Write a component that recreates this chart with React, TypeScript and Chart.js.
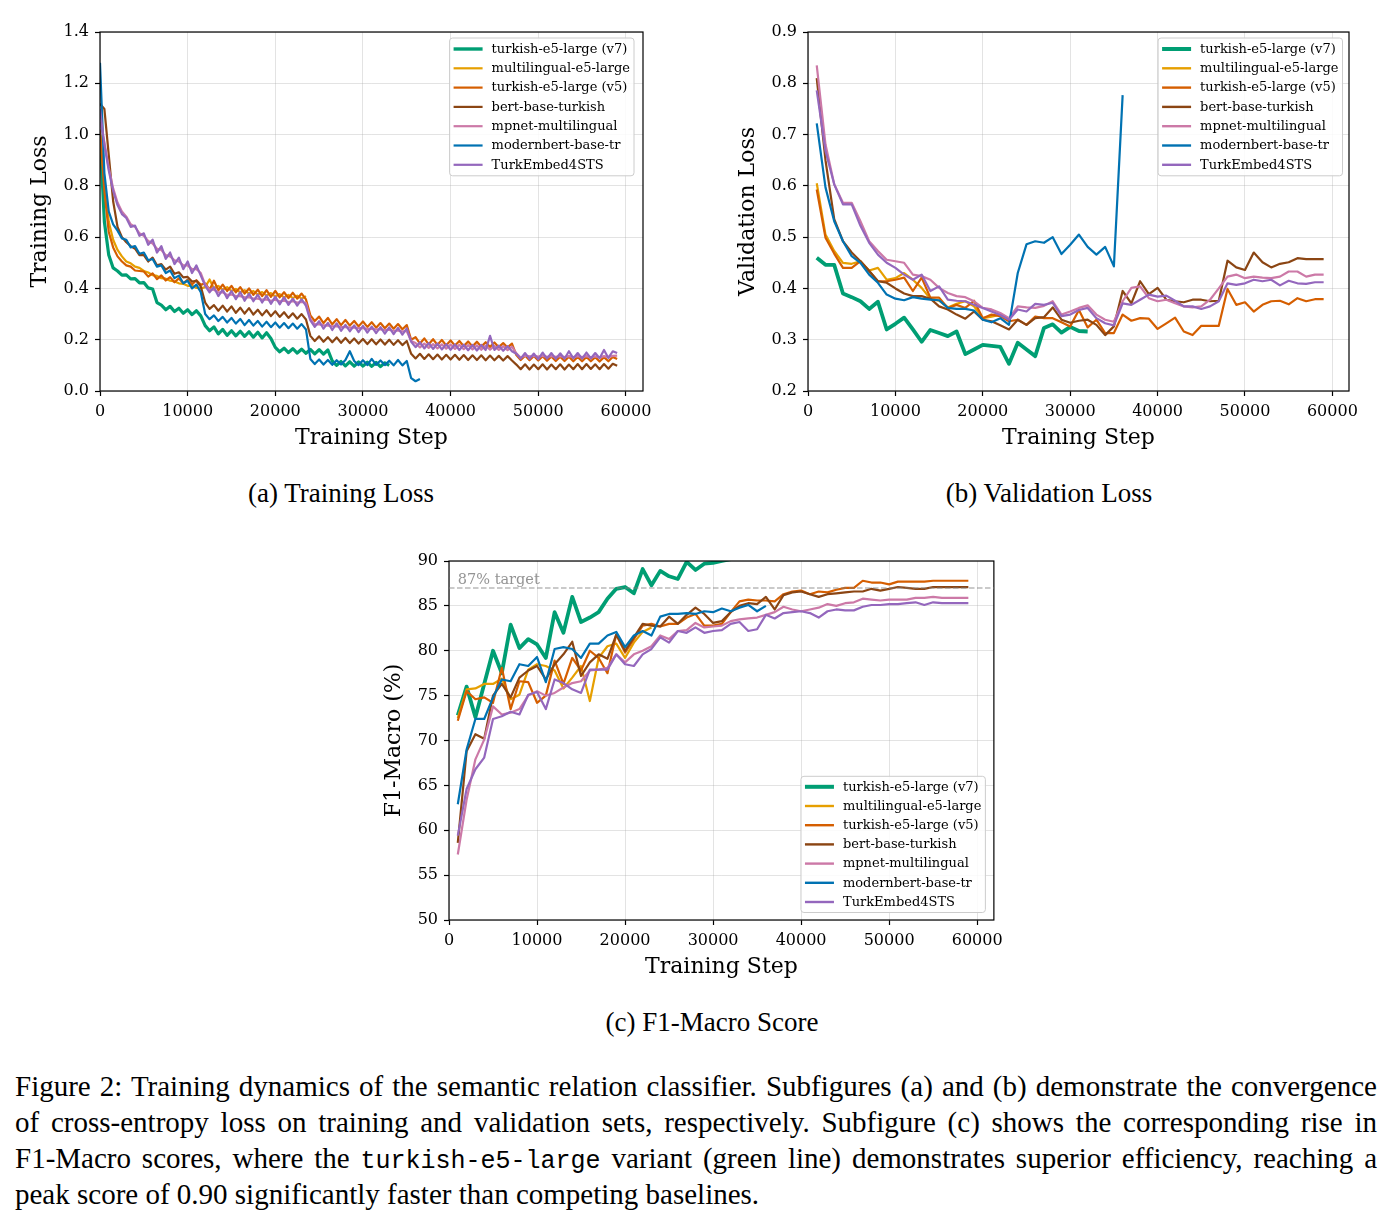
import React, { useEffect, useRef } from 'react';
import { Chart, registerables } from 'chart.js';

Chart.register(...registerables);

const SERIF = '"DejaVu Serif", serif';
const TIMES = '"Liberation Serif", "Times New Roman", serif';
const MONO = '"Liberation Mono", "DejaVu Sans Mono", monospace';

const MODELS = [
  'turkish-e5-large (v7)',
  'multilingual-e5-large',
  'turkish-e5-large (v5)',
  'bert-base-turkish',
  'mpnet-multilingual',
  'modernbert-base-tr',
  'TurkEmbed4STS',
];
const COLORS = ['#009E73', '#E69F00', '#D55E00', '#8B4513', '#CC79A7', '#0072B2', '#9467BD'];

// training steps are logged every 500 steps, evaluation every 1000 steps
const TRAIN_STEPS = Array.from({ length: 119 }, (_, i) => i * 500);
const EVAL_STEPS = Array.from({ length: 59 }, (_, i) => (i + 1) * 1000);

const X_TICKS = [0, 10000, 20000, 30000, 40000, 50000, 60000];

// ---------------- (a) Training loss ----------------
const TRAIN_V7 = [
  1.0, 0.66, 0.53, 0.48, 0.468, 0.452, 0.453, 0.437, 0.438, 0.422,
  0.423, 0.402, 0.398, 0.345, 0.335, 0.317, 0.33, 0.31, 0.323, 0.303,
  0.317, 0.298, 0.313, 0.293, 0.255, 0.235, 0.25, 0.223, 0.24, 0.217,
  0.235, 0.215, 0.233, 0.213, 0.231, 0.21, 0.229, 0.207, 0.227, 0.205,
  0.17, 0.153, 0.167, 0.15, 0.165, 0.148, 0.163, 0.147, 0.162, 0.145,
  0.161, 0.144, 0.16, 0.117, 0.1, 0.115, 0.098, 0.114, 0.097, 0.113,
  0.097, 0.112, 0.096, 0.111, 0.095, 0.11, 0.1,
];
const TRAIN_MULTI = [
  1.0, 0.82, 0.66, 0.59, 0.55, 0.525, 0.505, 0.498, 0.485, 0.48,
  0.468, 0.462, 0.452, 0.449, 0.44, 0.438, 0.43, 0.427, 0.42, 0.418,
  0.41, 0.41, 0.402, 0.4, 0.405, 0.435, 0.4, 0.41, 0.395, 0.405,
  0.39, 0.398, 0.385, 0.393, 0.38, 0.39, 0.376, 0.386, 0.372, 0.382,
  0.368, 0.378, 0.365, 0.375, 0.362, 0.372, 0.36, 0.37,
];
const TRAIN_V5 = [
  1.02, 0.78, 0.62, 0.56, 0.525, 0.505, 0.49, 0.485, 0.47, 0.468,
  0.466, 0.446, 0.459, 0.436, 0.451, 0.431, 0.444, 0.424, 0.439, 0.42,
  0.434, 0.416, 0.432, 0.414, 0.42, 0.395, 0.43, 0.393, 0.415, 0.39,
  0.41, 0.385, 0.405, 0.38, 0.4, 0.375, 0.395, 0.37, 0.393, 0.367,
  0.39, 0.365, 0.385, 0.362, 0.383, 0.36, 0.38, 0.357, 0.295, 0.273,
  0.29, 0.265, 0.285, 0.26, 0.28, 0.257, 0.277, 0.255, 0.273, 0.252,
  0.271, 0.25, 0.268, 0.247, 0.265, 0.245, 0.263, 0.243, 0.261, 0.241,
  0.257, 0.2, 0.21, 0.185, 0.205, 0.182, 0.202, 0.18, 0.199, 0.178,
  0.197, 0.177, 0.195, 0.175, 0.193, 0.174, 0.192, 0.173, 0.19, 0.172,
  0.189, 0.171, 0.187, 0.17, 0.185, 0.14, 0.121, 0.138, 0.12, 0.137,
  0.119, 0.136, 0.118, 0.135, 0.117, 0.134, 0.117, 0.134, 0.116, 0.133,
  0.116, 0.133, 0.116, 0.132, 0.115, 0.132, 0.116, 0.133, 0.125,
];
const TRAIN_BERT = [
  1.12, 1.1, 0.92, 0.74, 0.64, 0.6, 0.58, 0.565, 0.555, 0.53,
  0.53, 0.505, 0.52, 0.49, 0.495, 0.473, 0.485, 0.457, 0.463, 0.443,
  0.445, 0.427, 0.43, 0.407, 0.345, 0.32, 0.335, 0.313, 0.333, 0.31,
  0.33, 0.305, 0.325, 0.302, 0.323, 0.298, 0.317, 0.295, 0.315, 0.292,
  0.311, 0.289, 0.307, 0.285, 0.303, 0.282, 0.3, 0.279, 0.215, 0.195,
  0.213, 0.192, 0.21, 0.19, 0.209, 0.188, 0.207, 0.187, 0.205, 0.185,
  0.203, 0.183, 0.202, 0.182, 0.201, 0.181, 0.2, 0.18, 0.198, 0.179,
  0.195, 0.145, 0.127, 0.145, 0.125, 0.143, 0.124, 0.142, 0.123, 0.141,
  0.123, 0.141, 0.122, 0.14, 0.121, 0.139, 0.121, 0.139, 0.12, 0.138,
  0.12, 0.137, 0.119, 0.136, 0.119, 0.103, 0.085, 0.104, 0.084, 0.103,
  0.085, 0.104, 0.084, 0.103, 0.085, 0.104, 0.084, 0.103, 0.085, 0.105,
  0.085, 0.105, 0.086, 0.104, 0.085, 0.105, 0.087, 0.106, 0.098,
];
const TRAIN_MPNET = [
  1.05, 0.97, 0.87, 0.79, 0.735, 0.7, 0.68, 0.65, 0.64, 0.615,
  0.605, 0.585, 0.575, 0.555, 0.55, 0.53, 0.525, 0.51, 0.505, 0.49,
  0.49, 0.475, 0.475, 0.46, 0.415, 0.395, 0.395, 0.385, 0.385, 0.375,
  0.376, 0.37, 0.37, 0.365, 0.366, 0.36, 0.36, 0.356, 0.357, 0.352,
  0.356, 0.35, 0.352, 0.347, 0.35, 0.345, 0.347, 0.343, 0.28, 0.26,
  0.26, 0.257, 0.255, 0.253, 0.252, 0.25, 0.249, 0.247, 0.247, 0.245,
  0.245, 0.242, 0.242, 0.24, 0.24, 0.238, 0.238, 0.235, 0.235, 0.233,
  0.233, 0.195, 0.187, 0.17, 0.185, 0.168, 0.183, 0.166, 0.182, 0.165,
  0.181, 0.164, 0.18, 0.163, 0.179, 0.162, 0.178, 0.161, 0.177, 0.161,
  0.176, 0.16, 0.175, 0.159, 0.173, 0.147, 0.13, 0.138, 0.135, 0.137,
  0.134, 0.137, 0.133, 0.136, 0.133, 0.136, 0.132, 0.136, 0.132, 0.136,
  0.132, 0.136, 0.131, 0.135, 0.131, 0.136, 0.132, 0.137, 0.138,
];
const TRAIN_MODERN = [
  1.28, 0.85, 0.7, 0.65, 0.625, 0.595, 0.59, 0.56, 0.565, 0.535,
  0.54, 0.51, 0.515, 0.485, 0.49, 0.46, 0.47, 0.44, 0.45, 0.42,
  0.43, 0.4, 0.415, 0.385, 0.3, 0.28, 0.295, 0.273, 0.289, 0.267,
  0.285, 0.263, 0.281, 0.257, 0.277, 0.255, 0.273, 0.251, 0.27, 0.249,
  0.267, 0.247, 0.265, 0.245, 0.263, 0.243, 0.261, 0.24, 0.125, 0.105,
  0.123, 0.103, 0.121, 0.102, 0.12, 0.103, 0.121, 0.155, 0.117, 0.101,
  0.12, 0.101, 0.125, 0.102, 0.119, 0.101, 0.118, 0.1, 0.121, 0.1,
  0.117, 0.05, 0.038, 0.047,
];
const TRAIN_TURK = [
  1.1, 0.96, 0.86, 0.78, 0.725, 0.69, 0.675, 0.64, 0.645, 0.605,
  0.615, 0.57, 0.59, 0.54, 0.565, 0.515, 0.54, 0.495, 0.52, 0.475,
  0.505, 0.46, 0.49, 0.45, 0.41, 0.385, 0.405, 0.37, 0.395, 0.362,
  0.39, 0.358, 0.386, 0.352, 0.38, 0.35, 0.376, 0.345, 0.372, 0.34,
  0.368, 0.338, 0.366, 0.336, 0.36, 0.333, 0.358, 0.332, 0.275, 0.25,
  0.272, 0.243, 0.266, 0.238, 0.264, 0.235, 0.258, 0.233, 0.256, 0.23,
  0.254, 0.228, 0.251, 0.226, 0.249, 0.224, 0.248, 0.222, 0.246, 0.22,
  0.244, 0.192, 0.171, 0.19, 0.166, 0.187, 0.164, 0.185, 0.162, 0.183,
  0.161, 0.182, 0.16, 0.181, 0.159, 0.18, 0.158, 0.18, 0.16, 0.215,
  0.16, 0.177, 0.157, 0.175, 0.155, 0.145, 0.126, 0.148, 0.125, 0.146,
  0.124, 0.15, 0.126, 0.148, 0.125, 0.147, 0.126, 0.155, 0.127, 0.148,
  0.126, 0.15, 0.127, 0.148, 0.128, 0.16, 0.129, 0.155, 0.148,
];

// ---------------- (b) Validation loss ----------------
const VAL_V7 = [
  0.46, 0.446, 0.446, 0.39, 0.383, 0.375, 0.36, 0.374, 0.32, 0.331,
  0.343, 0.32, 0.296, 0.319, 0.313, 0.307, 0.316, 0.272, 0.281, 0.29,
  0.288, 0.286, 0.253, 0.294, 0.281, 0.268, 0.323, 0.33, 0.314, 0.325,
  0.317, 0.316,
];
const VAL_MULTI = [
  0.605, 0.505, 0.473, 0.45, 0.448, 0.453, 0.435, 0.44, 0.417, 0.42,
  0.43, 0.417, 0.401, 0.38, 0.376, 0.363, 0.37, 0.375, 0.365, 0.342,
  0.345, 0.349, 0.339,
];
const VAL_V5 = [
  0.593, 0.499, 0.468, 0.44, 0.44, 0.453, 0.434, 0.414, 0.414, 0.417,
  0.421, 0.395, 0.421, 0.382, 0.382, 0.362, 0.368, 0.362, 0.376, 0.342,
  0.349, 0.346, 0.336, 0.339, 0.329, 0.345, 0.342, 0.342, 0.334, 0.326,
  0.358, 0.324, 0.339, 0.313, 0.313, 0.349, 0.337, 0.342, 0.341, 0.321,
  0.332, 0.343, 0.316, 0.309, 0.327, 0.327, 0.327, 0.399, 0.368, 0.373,
  0.355, 0.368, 0.375, 0.376, 0.369, 0.381, 0.375, 0.379, 0.379,
];
const VAL_BERT = [
  0.81, 0.65, 0.535, 0.492, 0.47, 0.453, 0.434, 0.414, 0.411, 0.4,
  0.39, 0.385, 0.385, 0.38, 0.365, 0.359, 0.349, 0.341, 0.355, 0.339,
  0.336, 0.328, 0.32, 0.339, 0.329, 0.342, 0.344, 0.363, 0.339, 0.333,
  0.337, 0.339, 0.329, 0.309, 0.326, 0.395, 0.371, 0.414, 0.389, 0.401,
  0.378, 0.375, 0.373, 0.378, 0.378, 0.375, 0.376, 0.454, 0.441, 0.436,
  0.47, 0.451, 0.441, 0.448, 0.451, 0.459, 0.457, 0.457, 0.457,
];
const VAL_MPNET = [
  0.835, 0.681, 0.603, 0.567, 0.567, 0.531, 0.492, 0.473, 0.456, 0.453,
  0.45, 0.427, 0.424, 0.417, 0.401, 0.391, 0.385, 0.383, 0.375, 0.362,
  0.359, 0.352, 0.342, 0.365, 0.363, 0.362, 0.366, 0.375, 0.349, 0.355,
  0.362, 0.367, 0.349, 0.339, 0.335, 0.375, 0.401, 0.404, 0.381, 0.375,
  0.378, 0.371, 0.365, 0.363, 0.365, 0.378, 0.4, 0.423, 0.427, 0.42,
  0.423, 0.421, 0.42, 0.423, 0.433, 0.433, 0.423, 0.427, 0.427,
];
const VAL_MODERN = [
  0.722, 0.597, 0.531, 0.492, 0.463, 0.45, 0.427, 0.411, 0.388, 0.38,
  0.377, 0.383, 0.38, 0.378, 0.377, 0.362, 0.36, 0.36, 0.357, 0.339,
  0.334, 0.342, 0.329, 0.43, 0.486, 0.492, 0.489, 0.5, 0.467, 0.485,
  0.505, 0.481, 0.466, 0.481, 0.443, 0.777,
];
const VAL_TURK = [
  0.786, 0.668, 0.603, 0.564, 0.564, 0.522, 0.489, 0.466, 0.45, 0.44,
  0.427, 0.417, 0.427, 0.395, 0.404, 0.378, 0.376, 0.375, 0.368, 0.362,
  0.355, 0.348, 0.339, 0.359, 0.355, 0.37, 0.368, 0.372, 0.346, 0.349,
  0.358, 0.362, 0.342, 0.332, 0.328, 0.371, 0.368, 0.378, 0.388, 0.384,
  0.386, 0.376, 0.365, 0.365, 0.36, 0.365, 0.375, 0.41, 0.407, 0.41,
  0.417, 0.414, 0.417, 0.406, 0.415, 0.41, 0.409, 0.412, 0.412,
];

// ---------------- (c) F1-Macro ----------------
const F1_V7 = [
  72.8, 76.0, 72.6, 76.3, 80.0, 77.5, 82.9, 80.3, 81.3, 80.7,
  79.2, 84.3, 82.0, 86.0, 83.2, 83.7, 84.3, 85.8, 86.9, 87.1,
  86.4, 89.1, 87.3, 88.9, 88.3, 88.0, 89.9, 89.0, 89.7, 89.8,
  90.0, 90.2,
];
const F1_MULTI = [
  72.5, 75.7, 75.8, 76.3, 76.3, 76.9, 74.6, 75.1, 77.9, 78.5,
  78.3, 77.8, 75.8, 77.0, 78.3, 74.4, 79.2, 80.5, 80.8, 79.2,
  80.9, 82.1, 82.6,
];
const F1_V5 = [
  72.2, 75.5, 74.6, 74.8, 74.2, 78.1, 73.5, 76.6, 76.5, 74.2,
  75.0, 78.9, 76.3, 79.2, 77.8, 80.0, 79.2, 77.5, 81.8, 79.8,
  81.3, 82.8, 83.0, 82.7, 83.0, 83.0, 83.7, 84.1, 82.8, 82.8,
  83.0, 84.3, 85.5, 85.7, 85.6, 85.6, 85.5, 86.3, 86.6, 86.7,
  86.3, 86.6, 86.5, 86.8, 87.0, 87.0, 87.8, 87.6, 87.6, 87.4,
  87.7, 87.7, 87.7, 87.7, 87.8, 87.8, 87.8, 87.8, 87.8,
];
const F1_BERT = [
  58.6, 68.8, 70.7, 70.2, 75.0, 76.3, 74.8, 77.0, 77.8, 78.3,
  76.8, 78.5, 79.6, 81.0, 77.2, 78.7, 79.6, 79.1, 81.8, 80.0,
  81.5, 83.0, 82.8, 82.7, 83.8, 83.0, 84.0, 84.8, 84.1, 83.1,
  83.3, 84.3, 85.0, 85.3, 85.2, 86.0, 84.6, 86.2, 86.5, 86.6,
  86.3, 86.0, 86.3, 86.4, 86.5, 86.6, 86.6, 86.9, 86.7, 86.9,
  87.1, 87.0, 86.9, 86.9, 87.1, 87.1, 87.1, 87.1, 87.1,
];
const F1_MPNET = [
  57.3, 63.4, 67.9, 70.1, 73.8, 72.9, 73.1, 73.5, 75.0, 75.5,
  75.0, 75.3, 75.9, 76.4, 76.6, 77.8, 77.9, 78.1, 79.6, 78.7,
  79.6, 80.0, 80.5, 81.7, 81.3, 82.2, 82.3, 83.1, 82.6, 82.7,
  82.8, 83.3, 83.5, 83.6, 83.7, 84.0, 84.3, 84.9, 84.6, 84.4,
  84.6, 84.8, 85.2, 85.0, 85.3, 85.4, 85.8, 85.7, 85.6, 85.7,
  85.7, 85.7, 85.9, 85.9, 86.0, 85.9, 85.9, 85.9, 85.9,
];
const F1_MODERN = [
  62.9, 69.0, 72.4, 72.4, 74.8, 76.8, 76.6, 78.5, 78.3, 79.3,
  76.5, 80.2, 80.4, 80.2, 79.2, 80.8, 80.8, 81.7, 82.1, 80.4,
  81.7, 82.2, 81.7, 83.8, 84.1, 84.1, 84.2, 84.1, 84.4, 84.3,
  84.7, 84.4, 84.8, 85.1, 84.4, 85.0,
];
const F1_TURK = [
  59.4, 64.6, 66.8, 68.1, 72.4, 72.7, 73.2, 72.9, 75.1, 75.4,
  73.5, 76.8, 76.4, 75.7, 75.3, 77.9, 77.9, 77.9, 79.6, 78.5,
  78.3, 79.6, 80.2, 81.5, 80.9, 82.2, 82.0, 82.6, 82.0, 82.2,
  82.3, 83.0, 83.2, 82.2, 82.4, 84.0, 83.6, 84.2, 84.3, 84.4,
  84.2, 83.7, 84.4, 84.6, 84.5, 84.5, 84.9, 85.1, 85.1, 85.2,
  85.2, 85.3, 85.4, 85.1, 85.4, 85.3, 85.3, 85.3, 85.3,
];

const TARGET_F1 = 87;
const TARGET_LABEL = '87% target';
const TARGET_LABEL_X = 1000;

// ---------------- plugins ----------------
function roundRect(ctx: CanvasRenderingContext2D, x: number, y: number, w: number, h: number, r: number) {
  ctx.beginPath();
  ctx.moveTo(x + r, y);
  ctx.lineTo(x + w - r, y);
  ctx.arcTo(x + w, y, x + w, y + r, r);
  ctx.lineTo(x + w, y + h - r);
  ctx.arcTo(x + w, y + h, x + w - r, y + h, r);
  ctx.lineTo(x + r, y + h);
  ctx.arcTo(x, y + h, x, y + h - r, r);
  ctx.lineTo(x, y + r);
  ctx.arcTo(x, y, x + r, y, r);
  ctx.closePath();
}

const framePlugin = {
  id: 'frame',
  afterDatasetsDraw(chart: any) {
    const { ctx, chartArea: a } = chart;
    ctx.save();
    ctx.strokeStyle = '#000';
    ctx.lineWidth = 1.2;
    ctx.strokeRect(a.left, a.top, a.right - a.left, a.bottom - a.top);
    ctx.restore();
  },
};

const targetPlugin = {
  id: 'targetLine',
  afterDatasetsDraw(chart: any, _args: any, opts: any) {
    if (!opts || opts.value == null) return;
    const { ctx, chartArea, scales } = chart;
    const py = scales.y.getPixelForValue(opts.value);
    ctx.save();
    ctx.strokeStyle = 'rgba(128,128,128,0.55)';
    ctx.lineWidth = 1.5;
    ctx.setLineDash([5.5, 2.5]);
    ctx.beginPath();
    ctx.moveTo(chartArea.left, py);
    ctx.lineTo(chartArea.right, py);
    ctx.stroke();
    ctx.setLineDash([]);
    ctx.fillStyle = 'rgba(128,128,128,0.85)';
    ctx.font = `14.5px ${SERIF}`;
    ctx.textBaseline = 'alphabetic';
    ctx.textAlign = 'left';
    ctx.fillText(opts.text, scales.x.getPixelForValue(opts.textX), py - 4);
    ctx.restore();
  },
};

const legendPlugin = {
  id: 'insideLegend',
  afterDatasetsDraw(chart: any, _args: any, opts: any) {
    if (!opts || !opts.corner) return;
    const { ctx, chartArea } = chart;
    const ds = chart.data.datasets.filter((d: any) => d.label);
    ctx.save();
    ctx.font = `${opts.fontSize}px ${SERIF}`;
    let tw = 0;
    ds.forEach((d: any) => {
      tw = Math.max(tw, ctx.measureText(d.label).width);
    });
    const w = opts.padX + opts.lineLen + opts.gap + tw + opts.padR;
    const h = opts.edge * 2 + opts.rowH * (ds.length - 1);
    const x = chartArea.right - opts.mx - w;
    const y = opts.corner === 'tr' ? chartArea.top + opts.my : chartArea.bottom - opts.my - h;
    roundRect(ctx, x, y, w, h, 3);
    ctx.fillStyle = 'rgba(255,255,255,0.85)';
    ctx.fill();
    ctx.strokeStyle = '#cccccc';
    ctx.lineWidth = 1;
    ctx.stroke();
    ds.forEach((d: any, i: number) => {
      const cy = y + opts.edge + i * opts.rowH;
      ctx.beginPath();
      ctx.moveTo(x + opts.padX, cy);
      ctx.lineTo(x + opts.padX + opts.lineLen, cy);
      ctx.strokeStyle = d.borderColor;
      ctx.lineWidth = d.legendWidth || d.borderWidth;
      ctx.lineCap = 'butt';
      ctx.stroke();
      ctx.fillStyle = '#000';
      ctx.textBaseline = 'middle';
      ctx.textAlign = 'left';
      ctx.fillText(d.label, x + opts.padX + opts.lineLen + opts.gap, cy + 0.5);
    });
    ctx.restore();
  },
};

// ---------------- config builders ----------------
function makeDatasets(
  series: number[][],
  steps: number[],
  width: number,
  greenWidth: number,
  legendWidth: number,
  legendGreen: number
) {
  return series.map((vals, k) => ({
    label: MODELS[k],
    data: vals.map((y, i) => ({ x: steps[i], y })),
    borderColor: COLORS[k],
    backgroundColor: COLORS[k],
    borderWidth: k === 0 ? greenWidth : width,
    legendWidth: k === 0 ? legendGreen : legendWidth,
    pointRadius: 0,
    pointHoverRadius: 0,
    tension: 0,
    fill: false,
    clip: 0,
    borderJoinStyle: 'round',
    borderCapStyle: 'butt',
    order: series.length - k,
  }));
}

function makeConfig(p: any) {
  return {
    type: 'line',
    data: { datasets: p.datasets },
    plugins: [framePlugin, targetPlugin, legendPlugin],
    options: {
      animation: false,
      responsive: false,
      maintainAspectRatio: false,
      events: [],
      layout: { padding: { top: 16, right: p.padRight, left: 0, bottom: 0 } },
      plugins: {
        legend: { display: false },
        tooltip: { enabled: false },
        insideLegend: p.legend,
        targetLine: p.target || {},
      },
      scales: {
        x: {
          type: 'linear',
          min: 0,
          max: p.xMax,
          afterFit: (s: any) => {
            s.height = 60;
          },
          afterBuildTicks: (s: any) => {
            s.ticks = X_TICKS.map((v) => ({ value: v }));
          },
          ticks: {
            stepSize: 10000,
            includeBounds: false,
            autoSkip: false,
            maxRotation: 0,
            minRotation: 0,
            padding: 6,
            color: '#000',
            font: { size: 16, family: SERIF },
            callback: (v: any) => String(v),
          },
          grid: {
            color: 'rgba(176,176,176,0.35)',
            lineWidth: 1,
            drawTicks: true,
            tickLength: 5,
            tickColor: '#000',
            tickWidth: 1.2,
          },
          border: { display: false },
          title: {
            display: true,
            text: 'Training Step',
            color: '#000',
            font: { size: 22, family: SERIF },
            padding: { top: 0, bottom: 0 },
          },
        },
        y: {
          type: 'linear',
          min: p.yMin,
          max: p.yMax,
          afterFit: (s: any) => {
            s.width = 80;
          },
          ticks: {
            stepSize: p.yStep,
            includeBounds: false,
            autoSkip: false,
            padding: 6,
            color: '#000',
            font: { size: 16, family: SERIF },
            callback: p.yFmt,
          },
          grid: {
            color: 'rgba(176,176,176,0.35)',
            lineWidth: 1,
            drawTicks: true,
            tickLength: 5,
            tickColor: '#000',
            tickWidth: 1.2,
          },
          border: { display: false },
          title: {
            display: true,
            text: p.yTitle,
            color: '#000',
            font: { size: 22, family: SERIF },
            padding: { top: p.yTitlePad, bottom: 0 },
          },
        },
      },
    },
  };
}

const LEGEND_BASE = { fontSize: 13, padX: 4, lineLen: 29, gap: 9, padR: 4, rowH: 19.3, edge: 11 };

function buildTrainConfig() {
  return makeConfig({
    datasets: makeDatasets(
      [TRAIN_V7, TRAIN_MULTI, TRAIN_V5, TRAIN_BERT, TRAIN_MPNET, TRAIN_MODERN, TRAIN_TURK],
      TRAIN_STEPS,
      2.2,
      3.2,
      2.2,
      3.4
    ),
    xMax: 61950,
    yMin: 0,
    yMax: 1.4,
    yStep: 0.2,
    yFmt: (v: any) => Number(v).toFixed(1),
    yTitle: 'Training Loss',
    yTitlePad: 7,
    padRight: 17,
    legend: { ...LEGEND_BASE, corner: 'tr', mx: 9, my: 6 },
  });
}

function buildValConfig() {
  return makeConfig({
    datasets: makeDatasets(
      [VAL_V7, VAL_MULTI, VAL_V5, VAL_BERT, VAL_MPNET, VAL_MODERN, VAL_TURK],
      EVAL_STEPS,
      2.2,
      3.8,
      2.4,
      4
    ),
    xMax: 61900,
    yMin: 0.2,
    yMax: 0.9,
    yStep: 0.1,
    yFmt: (v: any) => Number(v).toFixed(1),
    yTitle: 'Validation Loss',
    yTitlePad: 7,
    padRight: 19,
    legend: { ...LEGEND_BASE, corner: 'tr', mx: 6.5, my: 6 },
  });
}

function buildF1Config() {
  return makeConfig({
    datasets: makeDatasets(
      [F1_V7, F1_MULTI, F1_V5, F1_BERT, F1_MPNET, F1_MODERN, F1_TURK],
      EVAL_STEPS,
      2.2,
      3.8,
      2.4,
      4
    ),
    xMax: 61900,
    yMin: 50,
    yMax: 90,
    yStep: 5,
    yFmt: (v: any) => String(Math.round(Number(v))),
    yTitle: 'F1-Macro (%)',
    yTitlePad: 12,
    padRight: 13,
    legend: { ...LEGEND_BASE, corner: 'br', mx: 8.5, my: 7.5, rowH: 19.2, edge: 10.5 },
    target: { value: TARGET_F1, text: TARGET_LABEL, textX: TARGET_LABEL_X },
  });
}

function ChartCanvas({ build, left, top }: { build: () => any; left: number; top: number }) {
  const ref = useRef<HTMLCanvasElement>(null);
  useEffect(() => {
    const chart = new Chart(ref.current as HTMLCanvasElement, build());
    return () => chart.destroy();
  }, []);
  return (
    <canvas
      ref={ref}
      width={640}
      height={435}
      style={{ position: 'absolute', left, top, width: 640, height: 435 }}
    />
  );
}

const subCap: React.CSSProperties = {
  position: 'absolute',
  width: 600,
  textAlign: 'center',
  fontFamily: TIMES,
  fontSize: 27,
  lineHeight: '30px',
  color: '#000',
  whiteSpace: 'nowrap',
};

const capLine: React.CSSProperties = {
  position: 'absolute',
  left: 15,
  width: 1362,
  fontFamily: TIMES,
  fontSize: 29,
  lineHeight: '36px',
  color: '#000',
  textAlign: 'justify',
  textAlignLast: 'justify',
};

export default function App() {
  return (
    <div style={{ position: 'absolute', left: 0, top: 0, width: 1392, height: 1226, background: '#fff' }}>
      <ChartCanvas build={buildTrainConfig} left={20} top={16} />
      <ChartCanvas build={buildValConfig} left={728} top={16} />
      <ChartCanvas build={buildF1Config} left={369} top={545} />

      <div style={{ ...subCap, left: 341 - 300, top: 478 }}>(a) Training Loss</div>
      <div style={{ ...subCap, left: 1049 - 300, top: 478 }}>(b) Validation Loss</div>
      <div style={{ ...subCap, left: 712 - 300, top: 1007 }}>(c) F1-Macro Score</div>

      <div style={{ ...capLine, top: 1068 }}>
        Figure 2: Training dynamics of the semantic relation classifier. Subfigures (a) and (b) demonstrate the convergence
      </div>
      <div style={{ ...capLine, top: 1104 }}>
        of cross-entropy loss on training and validation sets, respectively. Subfigure (c) shows the corresponding rise in
      </div>
      <div style={{ ...capLine, top: 1140 }}>
        F1-Macro scores, where the{' '}
        <span style={{ fontFamily: MONO, fontSize: 25 }}>turkish-e5-large</span> variant (green line) demonstrates
        superior efficiency, reaching a
      </div>
      <div style={{ ...capLine, top: 1176, textAlign: 'left', textAlignLast: 'left' }}>
        peak score of 0.90 significantly faster than competing baselines.
      </div>
    </div>
  );
}
